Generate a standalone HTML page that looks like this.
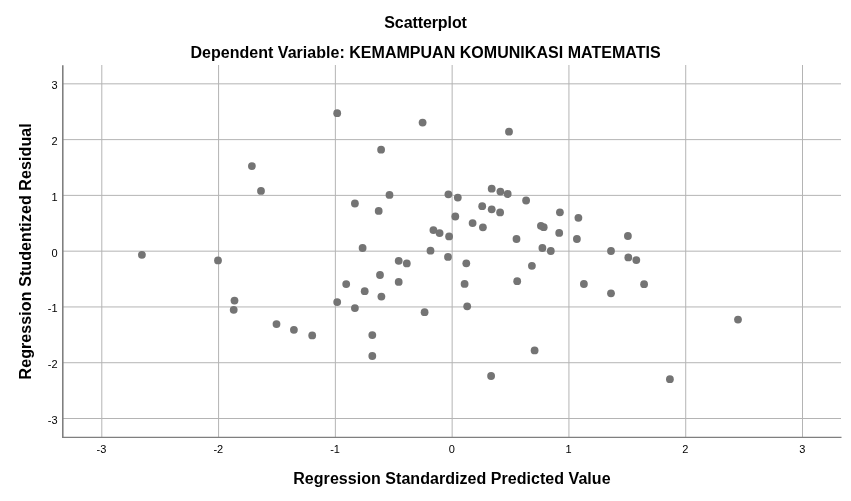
<!DOCTYPE html><html><head><meta charset="utf-8"><title>Scatterplot</title><style>html,body{margin:0;padding:0;background:#fff;overflow:hidden;}svg{display:block;will-change:transform;}text{font-family:"Liberation Sans",sans-serif;}</style></head><body>
<svg width="851" height="501" viewBox="0 0 851 501">
<rect width="851" height="501" fill="#fff"/>
<g stroke="#b4b4b4" stroke-width="1">
<line x1="101.80" y1="65" x2="101.80" y2="437" />
<line x1="218.58" y1="65" x2="218.58" y2="437" />
<line x1="335.37" y1="65" x2="335.37" y2="437" />
<line x1="452.15" y1="65" x2="452.15" y2="437" />
<line x1="568.93" y1="65" x2="568.93" y2="437" />
<line x1="685.72" y1="65" x2="685.72" y2="437" />
<line x1="802.50" y1="65" x2="802.50" y2="437" />
<line x1="63" y1="83.84" x2="841" y2="83.84" />
<line x1="63" y1="139.62" x2="841" y2="139.62" />
<line x1="63" y1="195.39" x2="841" y2="195.39" />
<line x1="63" y1="251.17" x2="841" y2="251.17" />
<line x1="63" y1="306.95" x2="841" y2="306.95" />
<line x1="63" y1="362.72" x2="841" y2="362.72" />
<line x1="63" y1="418.50" x2="841" y2="418.50" />
</g>
<line x1="62.79" y1="65.2" x2="62.79" y2="437.35" stroke="#7f7f7f" stroke-width="1.58"/>
<line x1="62.0" y1="437.35" x2="841.5" y2="437.35" stroke="#7f7f7f" stroke-width="1.3"/>
<g fill="#747474">
<circle cx="141.9" cy="254.8" r="3.9"/>
<circle cx="218.0" cy="260.4" r="3.9"/>
<circle cx="234.5" cy="300.6" r="3.9"/>
<circle cx="233.7" cy="309.8" r="3.9"/>
<circle cx="251.9" cy="166.1" r="3.9"/>
<circle cx="261.0" cy="190.9" r="3.9"/>
<circle cx="276.5" cy="324.1" r="3.9"/>
<circle cx="293.9" cy="329.8" r="3.9"/>
<circle cx="312.2" cy="335.4" r="3.9"/>
<circle cx="337.2" cy="113.2" r="3.9"/>
<circle cx="337.2" cy="302.1" r="3.9"/>
<circle cx="346.2" cy="284.1" r="3.9"/>
<circle cx="354.9" cy="203.5" r="3.9"/>
<circle cx="354.9" cy="308.1" r="3.9"/>
<circle cx="362.6" cy="248.0" r="3.9"/>
<circle cx="364.7" cy="291.2" r="3.9"/>
<circle cx="372.3" cy="335.1" r="3.9"/>
<circle cx="372.3" cy="356.0" r="3.9"/>
<circle cx="378.7" cy="210.9" r="3.9"/>
<circle cx="381.1" cy="149.7" r="3.9"/>
<circle cx="380.0" cy="275.0" r="3.9"/>
<circle cx="381.4" cy="296.6" r="3.9"/>
<circle cx="389.5" cy="194.9" r="3.9"/>
<circle cx="398.7" cy="281.9" r="3.9"/>
<circle cx="398.7" cy="260.8" r="3.9"/>
<circle cx="406.8" cy="263.4" r="3.9"/>
<circle cx="424.6" cy="312.2" r="3.9"/>
<circle cx="422.6" cy="122.6" r="3.9"/>
<circle cx="430.5" cy="250.7" r="3.9"/>
<circle cx="433.4" cy="230.1" r="3.9"/>
<circle cx="439.6" cy="233.1" r="3.9"/>
<circle cx="448.4" cy="194.3" r="3.9"/>
<circle cx="449.1" cy="236.4" r="3.9"/>
<circle cx="448.0" cy="256.9" r="3.9"/>
<circle cx="455.3" cy="216.5" r="3.9"/>
<circle cx="457.8" cy="197.6" r="3.9"/>
<circle cx="464.6" cy="283.9" r="3.9"/>
<circle cx="466.3" cy="263.3" r="3.9"/>
<circle cx="467.2" cy="306.3" r="3.9"/>
<circle cx="472.6" cy="223.1" r="3.9"/>
<circle cx="482.2" cy="206.2" r="3.9"/>
<circle cx="482.9" cy="227.3" r="3.9"/>
<circle cx="491.7" cy="188.7" r="3.9"/>
<circle cx="491.1" cy="376.0" r="3.9"/>
<circle cx="491.7" cy="209.3" r="3.9"/>
<circle cx="500.4" cy="191.6" r="3.9"/>
<circle cx="500.1" cy="212.4" r="3.9"/>
<circle cx="507.7" cy="194.0" r="3.9"/>
<circle cx="509.0" cy="131.7" r="3.9"/>
<circle cx="516.5" cy="239.0" r="3.9"/>
<circle cx="517.2" cy="281.2" r="3.9"/>
<circle cx="526.1" cy="200.5" r="3.9"/>
<circle cx="531.9" cy="265.8" r="3.9"/>
<circle cx="534.6" cy="350.4" r="3.9"/>
<circle cx="540.9" cy="225.8" r="3.9"/>
<circle cx="542.4" cy="248.0" r="3.9"/>
<circle cx="543.7" cy="227.2" r="3.9"/>
<circle cx="550.8" cy="251.0" r="3.9"/>
<circle cx="559.9" cy="212.3" r="3.9"/>
<circle cx="559.2" cy="232.9" r="3.9"/>
<circle cx="576.9" cy="239.0" r="3.9"/>
<circle cx="578.4" cy="217.8" r="3.9"/>
<circle cx="583.9" cy="284.0" r="3.9"/>
<circle cx="611.0" cy="251.0" r="3.9"/>
<circle cx="611.0" cy="293.3" r="3.9"/>
<circle cx="627.9" cy="236.0" r="3.9"/>
<circle cx="628.3" cy="257.4" r="3.9"/>
<circle cx="636.3" cy="260.1" r="3.9"/>
<circle cx="644.1" cy="284.2" r="3.9"/>
<circle cx="669.9" cy="379.2" r="3.9"/>
<circle cx="738.0" cy="319.6" r="3.9"/>
</g>
<g font-size="11" fill="#000">
<text x="101.50" y="453" text-anchor="middle">-3</text>
<text x="218.28" y="453" text-anchor="middle">-2</text>
<text x="335.07" y="453" text-anchor="middle">-1</text>
<text x="451.85" y="453" text-anchor="middle">0</text>
<text x="568.63" y="453" text-anchor="middle">1</text>
<text x="685.42" y="453" text-anchor="middle">2</text>
<text x="802.20" y="453" text-anchor="middle">3</text>
<text x="57.5" y="89.34" text-anchor="end">3</text>
<text x="57.5" y="145.12" text-anchor="end">2</text>
<text x="57.5" y="200.89" text-anchor="end">1</text>
<text x="57.5" y="256.67" text-anchor="end">0</text>
<text x="57.5" y="312.45" text-anchor="end">-1</text>
<text x="57.5" y="368.22" text-anchor="end">-2</text>
<text x="57.5" y="424.00" text-anchor="end">-3</text>
</g>
<g font-weight="bold" fill="#000" text-anchor="middle">
<text x="425.6" y="27.6" font-size="16" textLength="82.6" lengthAdjust="spacing">Scatterplot</text>
<text x="425.5" y="57.6" font-size="16" textLength="470.2" lengthAdjust="spacing">Dependent Variable: KEMAMPUAN KOMUNIKASI MATEMATIS</text>
<text x="451.9" y="484" font-size="16" textLength="317.3" lengthAdjust="spacing">Regression Standardized Predicted Value</text>
<text transform="translate(31,251.4) rotate(-90)" x="0" y="0" font-size="16" textLength="256.2" lengthAdjust="spacing">Regression Studentized Residual</text>
</g>
</svg></body></html>
